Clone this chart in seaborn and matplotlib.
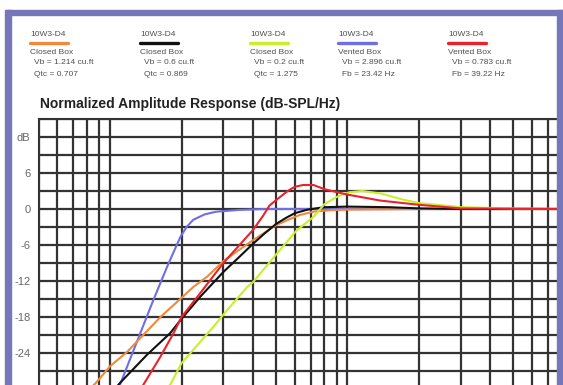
import pandas as pd
import numpy as np
import matplotlib
matplotlib.use("Agg")
import matplotlib.pyplot as plt
from matplotlib.lines import Line2D
from matplotlib.patches import Rectangle
from matplotlib.ticker import NullLocator
import seaborn as sns

# ***DATOS***
series = ["Vented 2.896", "Closed 0.707", "Closed 0.869", "Closed 1.275", "Vented 0.783"]

blue_f = [10.3, 11.0, 13.4, 15.2, 17.4, 18.6, 19.8, 21, 22.4, 25, 28, 35, 45, 800]
blue_db = [-32, -29.3, -20.7, -15.2, -9.6, -7.0, -4.6, -3.0, -1.8, -0.9, -0.45, -0.15, 0, 0]

orange_f = [6.5, 8.7, 10, 11.8, 16.3, 20, 22.4, 25.6, 30, 35, 40, 50, 57, 63, 72, 85, 100, 200, 800]
orange_db = [-34, -29, -26.2, -23.8, -18, -14.8, -13, -11.3, -8.7, -6.8, -5.2, -2.7, -1.7, -1.0, -0.45, -0.2, -0.1, 0, 0]

black_f = [9, 11, 14.3, 17.9, 20, 24, 30, 35, 40, 45, 50, 55, 60, 68, 80, 100, 150, 200, 300, 800]
black_db = [-33, -29, -24.3, -20.7, -18.3, -14.6, -10.5, -8.0, -5.8, -4.0, -2.5, -1.5, -0.7, -0.1, 0.3, 0.4, 0.3, 0.1, 0, 0]

green_f = [14.5, 17.9, 20, 27.3, 30, 37.8, 40, 52, 61, 72, 80, 90, 102, 115, 138, 170, 200, 300, 500, 800]
green_db = [-33, -29.3, -25.7, -19.6, -17.6, -13, -12.2, -6.8, -3.6, -1.3, 0.8, 2.0, 2.8, 3.0, 2.6, 1.6, 1.0, 0.3, 0.1, 0]

red_f = [12.5, 13.8, 16.3, 18.5, 20, 24, 30, 40, 44, 47, 52, 56, 60, 65, 72, 80, 100, 138, 200, 300, 800]
red_db = [-33, -29.3, -24.6, -20.7, -18, -14, -9, -3.5, -1.2, 0.6, 2.0, 3.0, 3.7, 4.0, 4.0, 3.3, 2.4, 1.4, 0.7, 0.1, 0]

colores = ["#6f6ee6", "#ee8a3c", "#111111", "#c9ee2a", "#e8232c"]

# leyenda superior
leg_names = ["10W3-D4"] * 5
leg_box = ["Closed Box", "Closed Box", "Closed Box", "Vented Box", "Vented Box"]
leg_vb = ["Vb = 1.214 cu.ft", "Vb = 0.6 cu.ft", "Vb = 0.2 cu.ft", "Vb = 2.896 cu.ft", "Vb = 0.783 cu.ft"]
leg_q = ["Qtc = 0.707", "Qtc = 0.869", "Qtc = 1.275", "Fb = 23.42 Hz", "Fb = 39.22 Hz"]
leg_col = ["#ee8a3c", "#111111", "#c9ee2a", "#6f6ee6", "#e8232c"]

xgrid = [5, 6, 7, 8, 9, 10, 20, 30, 40, 50, 60, 70, 80, 90, 100,
         200, 300, 400, 500, 600, 700, 800]
ygrid = list(range(-33, 16, 3))

# ***TABLA***
partes = []
for nom, fs, dbs in zip(series, [blue_f, orange_f, black_f, green_f, red_f],
                        [blue_db, orange_db, black_db, green_db, red_db]):
    partes.append(pd.DataFrame({"serie": nom, "freq": fs, "db": dbs}))
d1 = pd.concat(partes, ignore_index=True)

# ***GRAFICO***
sns.set_style("white")
plt.rcParams["font.family"] = ["Liberation Sans", "DejaVu Sans"]

W, H = 563, 385
fig = plt.figure(figsize=(W / 100, H / 100), dpi=100)
ax = fig.add_axes([38.7 / W, 1 - 407 / H, 523 / W, 288 / H])

sns.lineplot(data=d1, x="freq", y="db", hue="serie", hue_order=series,
             palette=dict(zip(series, colores)), legend=False, sort=False,
             estimator=None, linewidth=1.5, ax=ax)

ax.set_xscale("log")
ax.set_xlim(5, 800)
ax.set_ylim(-33, 15)
ax.set_xticks(xgrid)
ax.xaxis.set_minor_locator(NullLocator())
ax.set_xticklabels([])
ax.set_yticks(ygrid)
etiquetas = []
for v in ygrid:
    if v == 12:
        etiquetas.append("dB")
    elif v % 6 == 0 and v < 12:
        etiquetas.append(str(v))
    else:
        etiquetas.append("")
ax.set_yticklabels(etiquetas)
ax.tick_params(length=0, pad=6, labelsize=8, labelcolor="#666666")
ax.set_xlabel("")
ax.set_ylabel("")
ax.set_axisbelow(True)
ax.grid(True, color="#333333", linewidth=1.6)
for s in ax.spines.values():
    s.set_color("#333333")
    s.set_linewidth(1.5)

# titulo
fig.text(40 / W, 1 - 104 / H, "Normalized Amplitude Response (dB-SPL/Hz)",
         fontsize=10, fontweight="bold", color="#222222", va="center")

# leyenda
xs = [30, 140, 250, 338, 448]
for i in range(5):
    x0 = xs[i]
    fig.text(x0 / W, 1 - 35 / H, leg_names[i], fontsize=6, color="#505050", va="center")
    fig.add_artist(Line2D([x0 / W, (x0 + 38) / W], [1 - 43 / H, 1 - 43 / H],
                          color=leg_col[i], linewidth=2.4, transform=fig.transFigure))
    fig.text(x0 / W, 1 - 53 / H, leg_box[i], fontsize=6, color="#505050", va="center")
    fig.text((x0 + 4) / W, 1 - 63 / H, leg_vb[i], fontsize=6, color="#505050", va="center")
    fig.text((x0 + 4) / W, 1 - 74 / H, leg_q[i], fontsize=6, color="#505050", va="center")

# borde morado
borde = "#7676bb"
fig.add_artist(Rectangle((6 / W, 1 - 15 / H), (W - 6) / W, 5 / H, color=borde,
                         transform=fig.transFigure, zorder=10))
fig.add_artist(Rectangle((5 / W, 0), 6 / W, 1 - 10 / H, color=borde,
                         transform=fig.transFigure, zorder=10))
fig.add_artist(Rectangle((557 / W, 0), 6 / W, 1 - 10 / H, color=borde,
                         transform=fig.transFigure, zorder=10))

fig.savefig("out.png", dpi=100)
